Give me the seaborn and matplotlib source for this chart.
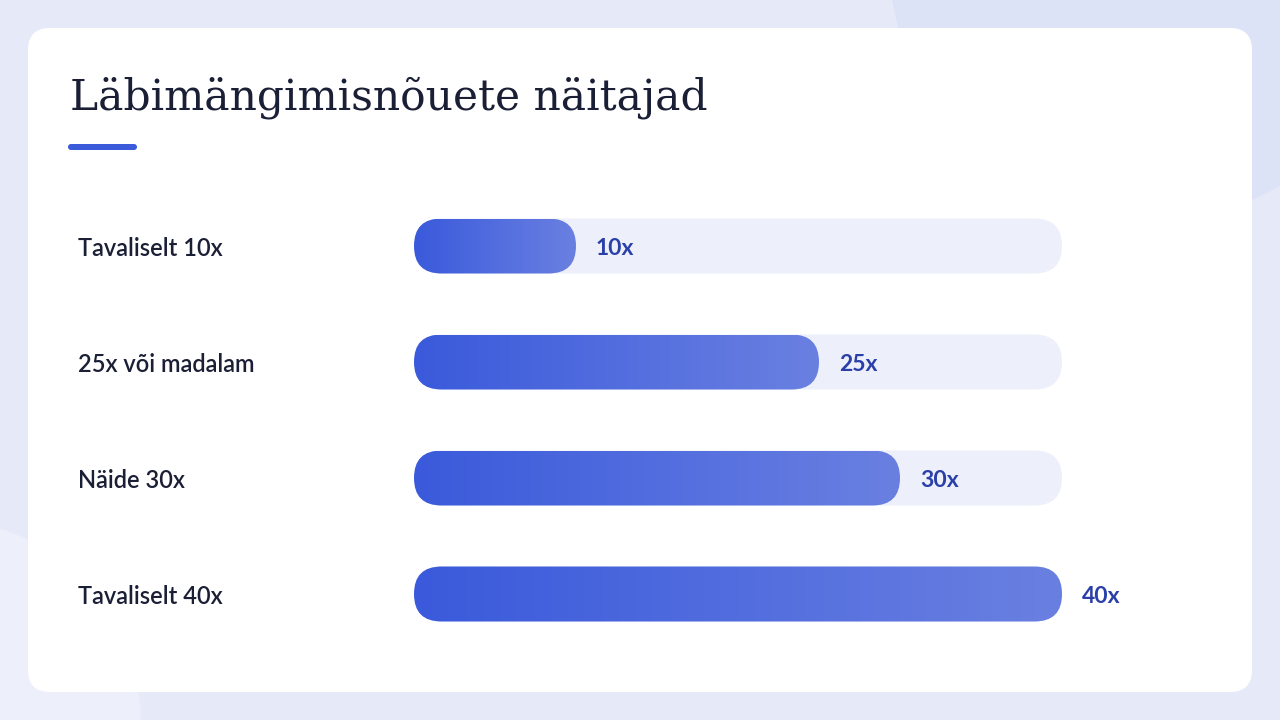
import matplotlib.pyplot as plt
import seaborn as sns
import numpy as np
from matplotlib.patches import FancyBboxPatch, Circle

sns.set_style("white")
plt.rcParams['font.family'] = ['Lato', 'DejaVu Sans']

title = "Läbimängimisnõuete näitajad"
categories = ["Tavaliselt 10x", "25x või madalam", "Näide 30x", "Tavaliselt 40x"]
values = [10, 25, 30, 40]
value_labels = ["10x", "25x", "30x", "40x"]
max_value = 40

W, H = 1280, 720
fig = plt.figure(figsize=(12.8, 7.2), dpi=100)
fig.patch.set_facecolor("#e6eaf8")

# background & card in pixel coords
bg = fig.add_axes([0, 0, 1, 1])
bg.set_xlim(0, W)
bg.set_ylim(H, 0)
bg.axis("off")
bg.add_patch(Circle((1150, -40), 260, color="#dde3f6", zorder=0))
bg.add_patch(Circle((-60, 720), 200, color="#edf0fb", zorder=0))
bg.add_patch(FancyBboxPatch((28, 28), 1224, 664, boxstyle="round,pad=0,rounding_size=22",
                            fc="white", ec="none", zorder=1))
bg.add_patch(FancyBboxPatch((68, 144), 69, 6, boxstyle="round,pad=0,rounding_size=3",
                            fc="#3b5bdb", ec="none", zorder=2))
bg.text(70, 98, title, family=["DejaVu Serif"], fontsize=30.5, color="#1a1f36",
        va="center", ha="left", zorder=3)

# bar axes: x in data units, y scaled so aspect is 1
x0_px, x1_px = 414, 1062
ppu = (x1_px - x0_px) / max_value
ax = fig.add_axes([0, 0, 1, 1])
ax.axis("off")
ax.patch.set_alpha(0)

centers = [246, 362, 478, 594]
half = 27.5 / ppu
cmap = sns.blend_palette(["#3a5adb", "#6a80e1"], as_cmap=True)
grad = np.linspace(0, 1, 256).reshape(1, -1)

for cpx, cat, v, lab in zip(centers, categories, values, value_labels):
    cy = cpx / ppu
    track = FancyBboxPatch((0, cy - half), max_value, 2 * half,
                           boxstyle=f"round,pad=0,rounding_size={half}",
                           fc="#edf0fb", ec="none", zorder=2)
    ax.add_patch(track)
    bar = FancyBboxPatch((0, cy - half), v, 2 * half,
                         boxstyle=f"round,pad=0,rounding_size={half}",
                         fc="none", ec="none", zorder=3)
    ax.add_patch(bar)
    im = ax.imshow(grad, extent=[0, v, cy + half, cy - half], aspect="auto",
                   cmap=cmap, zorder=3, interpolation="bicubic")
    im.set_clip_path(bar)
    ax.text(v + 20 / ppu, cy + 2 / ppu, lab, fontsize=16.5, fontweight="bold",
            color="#2a3fa8", va="center", ha="left", zorder=4)
    ax.text(-(x0_px - 78) / ppu, cy + 2 / ppu, cat, fontsize=17, fontweight="semibold",
            color="#1a1f36", va="center", ha="left", zorder=4)

ax.set_xlim(-x0_px / ppu, (W - x0_px) / ppu)
ax.set_ylim(H / ppu, 0)
fig.savefig("out.png", dpi=100)
